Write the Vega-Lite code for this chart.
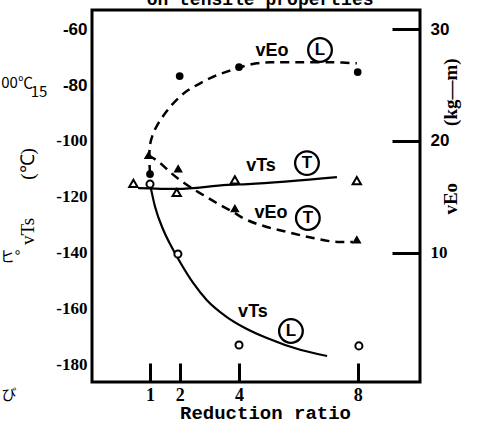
{
  "$schema": "https://vega.github.io/schema/vega-lite/v6.json",
  "width": 328,
  "height": 372,
  "autosize": {"type": "none"},
  "padding": {"left": 92, "top": 10, "right": 62, "bottom": 45},
  "background": "white",
  "config": {
    "view": {"stroke": "black", "strokeWidth": 3},
    "axis": {"grid": false, "domain": false, "ticks": true, "tickColor": "black", "tickWidth": 3, "labelColor": "black", "titleColor": "black", "zindex": 1}
  },
  "datasets": {
    "c_tsL": [
      {"i": 1, "x": 1.0, "v": -115.4}, {"i": 2, "x": 1.17, "v": -123.5}, {"i": 3, "x": 1.45, "v": -131.8},
      {"i": 4, "x": 1.73, "v": -137.9}, {"i": 5, "x": 2.07, "v": -144.3}, {"i": 6, "x": 2.46, "v": -150.8},
      {"i": 7, "x": 2.91, "v": -156.8}, {"i": 8, "x": 3.59, "v": -162.9}, {"i": 9, "x": 4.2, "v": -166.8},
      {"i": 10, "x": 4.94, "v": -170.4}, {"i": 11, "x": 6.06, "v": -174.6}, {"i": 12, "x": 6.97, "v": -176.8}
    ],
    "c_tsT": [
      {"i": 1, "x": 0.6, "v": -116.8}, {"i": 2, "x": 1.91, "v": -117.1}, {"i": 3, "x": 3.6, "v": -115.7},
      {"i": 4, "x": 4.3, "v": -115.4}, {"i": 5, "x": 7.3, "v": -112.9}
    ],
    "c_eoL": [
      {"i": 1, "x": 1.0, "v": 17.05}, {"i": 2, "x": 0.98, "v": 18.4}, {"i": 3, "x": 1.0, "v": 19.64},
      {"i": 4, "x": 1.11, "v": 20.69}, {"i": 5, "x": 1.28, "v": 21.58}, {"i": 6, "x": 1.51, "v": 22.47},
      {"i": 7, "x": 1.73, "v": 23.21}, {"i": 8, "x": 2.01, "v": 23.96}, {"i": 9, "x": 2.29, "v": 24.55},
      {"i": 10, "x": 2.69, "v": 25.15}, {"i": 11, "x": 3.13, "v": 25.74}, {"i": 12, "x": 3.59, "v": 26.19},
      {"i": 13, "x": 4.03, "v": 26.58}, {"i": 14, "x": 4.6, "v": 26.94}, {"i": 15, "x": 5.16, "v": 27.03},
      {"i": 16, "x": 6.06, "v": 27.03}, {"i": 17, "x": 7.18, "v": 27.03}, {"i": 18, "x": 7.97, "v": 26.94}
    ],
    "c_eoT": [
      {"i": 1, "x": 0.93, "v": 18.75}, {"i": 2, "x": 1.34, "v": 18.04}, {"i": 3, "x": 1.67, "v": 17.23},
      {"i": 4, "x": 2.25, "v": 16.07}, {"i": 5, "x": 2.79, "v": 15.18}, {"i": 6, "x": 3.36, "v": 14.29},
      {"i": 7, "x": 3.8, "v": 13.66}, {"i": 8, "x": 4.13, "v": 13.13}, {"i": 9, "x": 4.94, "v": 12.32},
      {"i": 10, "x": 5.62, "v": 11.88}, {"i": 11, "x": 6.49, "v": 11.34}, {"i": 12, "x": 7.4, "v": 10.98},
      {"i": 13, "x": 7.84, "v": 10.98}
    ],
    "p_tsL": [
      {"x": 1.0, "v": -115.4}, {"x": 1.94, "v": -140.4}, {"x": 4.0, "v": -172.9}, {"x": 8.04, "v": -173.2}
    ],
    "p_tsT": [
      {"x": 0.44, "v": -115.1}, {"x": 1.9, "v": -118.4}, {"x": 3.86, "v": -113.9}, {"x": 7.97, "v": -114.2}
    ],
    "p_eoL": [
      {"x": 1.0, "v": 17.05}, {"x": 2.0, "v": 25.8}, {"x": 4.0, "v": 26.6}, {"x": 8.0, "v": 26.16}
    ],
    "p_eoT": [
      {"x": 0.95, "v": 18.75}, {"x": 1.95, "v": 17.56}, {"x": 3.86, "v": 14.0}, {"x": 7.97, "v": 11.22}
    ],
    "ticks_T_short": [
      {"v": -180}, {"v": -160}, {"v": -140}, {"v": -120}, {"v": -80}, {"v": -60}
    ],
    "ticks_T_long": [
      {"v": -100}
    ],
    "ticks_E_minor": [
      {"v": 15}, {"v": 25}
    ],
    "lab_text": [
      {"t": "vEo", "x": 5.11, "v": -67.9}, {"t": "vTs", "x": 4.74, "v": -108.9},
      {"t": "vEo", "x": 5.08, "v": -125.7}, {"t": "vTs", "x": 4.47, "v": -161.1}
    ],
    "lab_circ": [
      {"t": "L", "x": 6.73, "v": -67.5}, {"t": "T", "x": 6.29, "v": -107.9},
      {"t": "T", "x": 6.32, "v": -127.5}, {"t": "L", "x": 5.75, "v": -167.9}
    ],
    "top_text": [
      {"t": "on tensile properties", "x": 4.71, "v": -51.4}
    ],
    "side_text": [
      {"t": "00℃", "x": -3.48, "v": -79.3}, {"t": "15", "x": -2.74, "v": -82.5},
      {"t": "ヒ°", "x": -3.72, "v": -141.4}, {"t": "び", "x": -3.75, "v": -190.7}
    ]
  },
  "encoding": {
    "x": {
      "field": "x", "type": "quantitative",
      "scale": {"domain": [-0.955, 10.1], "nice": false, "zero": false},
      "axis": {
        "values": [1, 2, 4, 8],
        "title": "Reduction ratio",
        "titleFont": "Liberation Mono", "titleFontSize": 19, "titleFontWeight": "bold",
        "titleX": 173, "titleY": 49, "titleBaseline": "middle", "titleAlign": "center",
        "offset": -19, "tickSize": 19, "tickColor": "black", "labelPadding": 4,
        "labelFont": "Liberation Serif", "labelFontSize": 18, "labelFontWeight": "bold"
      }
    }
  },
  "layer": [
    {
      "encoding": {
        "y": {
          "field": "v", "type": "quantitative",
          "scale": {"domain": [-186.1, -53.2], "nice": false, "zero": false},
          "axis": {
            "orient": "left",
            "values": [-180, -160, -140, -120, -100, -80, -60],
            "ticks": false,
            "title": "vTs\u2003\u2003(℃)",
            "titleFont": "Liberation Serif", "titleFontSize": 19, "titleFontWeight": "normal",
            "titleX": -65, "titleY": 186, "titleAlign": "center", "titleBaseline": "middle",
            "labelPadding": 5,
            "labelFont": {"condition": {"test": "datum.value >= -80", "value": "Liberation Sans"}, "value": "Liberation Serif"},
            "labelFontSize": 17, "labelFontWeight": "bold",
            "labelExpr": "'' + datum.value"
          }
        }
      },
      "layer": [
        {"data": {"name": "ticks_T_short"}, "mark": {"type": "rule", "color": "black", "strokeWidth": 3}, "encoding": {"x": {"datum": -0.955}, "x2": {"datum": -0.584}}},
        {"data": {"name": "ticks_T_long"}, "mark": {"type": "rule", "color": "black", "strokeWidth": 3}, "encoding": {"x": {"datum": -0.955}, "x2": {"datum": -0.011}}},
        {"data": {"name": "c_tsT"}, "mark": {"type": "line", "color": "black", "strokeWidth": 2.2, "interpolate": "monotone"}, "encoding": {"order": {"field": "i"}}},
        {"data": {"name": "p_tsT"}, "mark": {"type": "point", "shape": "triangle-up", "size": 70, "fill": "white", "stroke": "black", "strokeWidth": 2, "opacity": 1, "filled": true}},
        {"data": {"name": "c_tsL"}, "mark": {"type": "line", "color": "black", "strokeWidth": 2.2, "interpolate": "monotone"}, "encoding": {"order": {"field": "i"}}},
        {"data": {"name": "p_tsL"}, "mark": {"type": "point", "shape": "circle", "size": 50, "fill": "white", "stroke": "black", "strokeWidth": 2, "opacity": 1, "filled": true}},
        {"data": {"name": "lab_text"}, "mark": {"type": "text", "font": "Liberation Sans", "fontSize": 18, "fontWeight": "bold", "color": "black", "align": "center", "baseline": "middle"}, "encoding": {"text": {"field": "t"}}},
        {"data": {"name": "lab_circ"}, "mark": {"type": "point", "shape": "circle", "size": 560, "filled": false, "stroke": "black", "strokeWidth": 2.3, "opacity": 1}},
        {"data": {"name": "lab_circ"}, "mark": {"type": "text", "font": "Liberation Sans", "fontSize": 17, "fontWeight": "bold", "color": "black", "align": "center", "baseline": "middle"}, "encoding": {"text": {"field": "t"}}},
        {"data": {"name": "top_text"}, "mark": {"type": "text", "font": "Liberation Mono", "fontSize": 18, "fontWeight": "bold", "color": "black", "align": "center", "baseline": "alphabetic"}, "encoding": {"text": {"field": "t"}}},
        {"data": {"name": "side_text"}, "mark": {"type": "text", "font": "Noto Sans CJK JP", "fontSize": 15, "color": "black", "align": "center", "baseline": "middle"}, "encoding": {"text": {"field": "t"}}}
      ]
    },
    {
      "encoding": {
        "y": {
          "field": "v", "type": "quantitative",
          "scale": {"domain": [-1.525, 31.7], "nice": false, "zero": false},
          "axis": {
            "orient": "right",
            "values": [10, 20, 30],
            "title": "vEo\u2003\u2003\u2003(kg—m)",
            "titleAngle": 270,
            "titleFont": "Liberation Serif", "titleFontSize": 19, "titleFontWeight": "bold",
            "titleX": 58, "titleY": 126, "titleAlign": "center", "titleBaseline": "middle",
            "offset": -28, "tickSize": 28, "tickColor": "black", "labelPadding": 10,
            "labelFont": {"condition": {"test": "datum.value >= 20", "value": "Liberation Sans"}, "value": "Liberation Serif"},
            "labelFontSize": 17, "labelFontWeight": "bold",
            "labelExpr": "'' + datum.value"
          }
        }
      },
      "layer": [
        {"data": {"name": "ticks_E_minor"}, "mark": {"type": "rule", "color": "black", "strokeWidth": 3}, "encoding": {"x": {"datum": 9.763}, "x2": {"datum": 10.1}}},
        {"data": {"name": "c_eoT"}, "mark": {"type": "line", "color": "black", "strokeWidth": 2.5, "strokeDash": [9, 6], "interpolate": "monotone"}, "encoding": {"order": {"field": "i"}}},
        {"data": {"name": "p_eoT"}, "mark": {"type": "point", "shape": "triangle-up", "size": 90, "filled": true, "color": "black", "opacity": 1}},
        {"data": {"name": "c_eoL"}, "mark": {"type": "line", "color": "black", "strokeWidth": 2.5, "strokeDash": [9, 6], "interpolate": "catmull-rom"}, "encoding": {"order": {"field": "i"}}},
        {"data": {"name": "p_eoL"}, "mark": {"type": "point", "shape": "circle", "size": 60, "filled": true, "color": "black", "opacity": 1}}
      ]
    }
  ],
  "resolve": {"scale": {"y": "independent"}, "axis": {"y": "independent"}}
}
